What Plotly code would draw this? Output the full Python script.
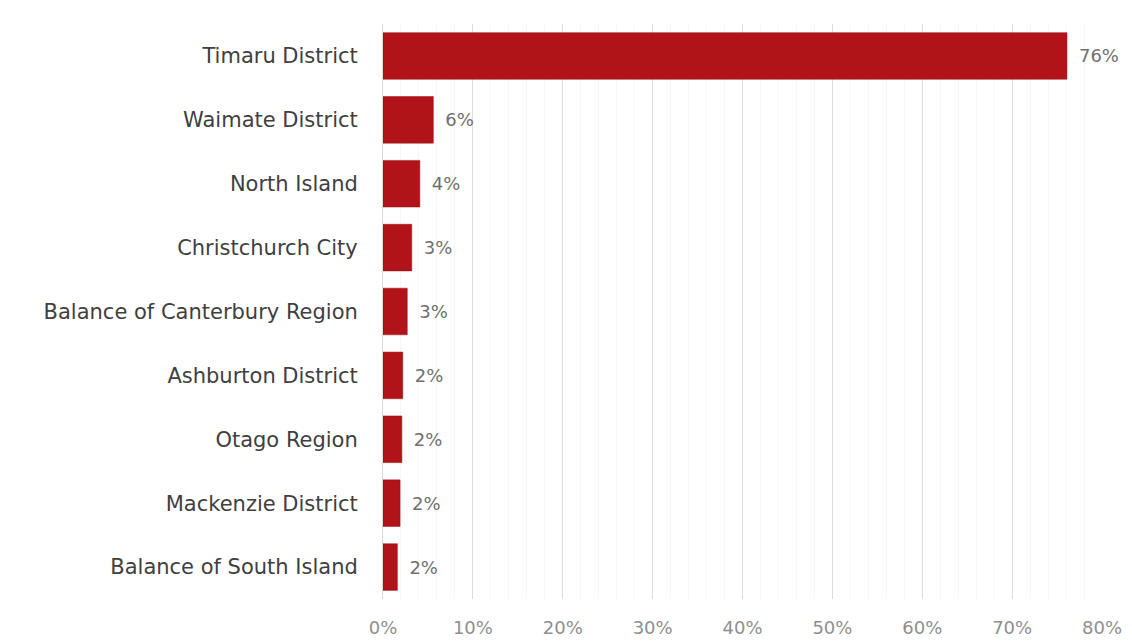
import plotly.graph_objects as go

# Share of residents by area (percent)
areas = [
    "Timaru District",
    "Waimate District",
    "North Island",
    "Christchurch City",
    "Balance of Canterbury Region",
    "Ashburton District",
    "Otago Region",
    "Mackenzie District",
    "Balance of South Island",
]
shares = [76.1, 5.6, 4.1, 3.2, 2.7, 2.2, 2.1, 1.9, 1.6]

x_ticks = list(range(0, 81, 10))
x_tick_labels = [f"{v}%" for v in x_ticks]

BAR_COLOR = "#B01318"
FONT = "'DejaVu Sans', sans-serif"

fig = go.Figure(
    go.Bar(
        x=shares,
        y=areas,
        orientation="h",
        marker=dict(color=BAR_COLOR, line=dict(color="#9a1014", width=0.5)),
        width=0.73,
        text=shares,
        # en space keeps a small gap between bar end and label
        texttemplate="\u2002%{x:.0f}%",
        textposition="outside",
        textfont=dict(family=FONT, size=18, color="#707070"),
        cliponaxis=False,
        hoverinfo="skip",
    )
)

fig.update_layout(
    width=1132,
    height=643,
    margin=dict(l=383, r=30, t=24, b=44),
    paper_bgcolor="white",
    plot_bgcolor="white",
    showlegend=False,
    font=dict(family=FONT),
)

fig.update_xaxes(
    range=[0, 80],
    tickvals=x_ticks,
    ticktext=x_tick_labels,
    tickfont=dict(family=FONT, size=18, color="#8f8f8f"),
    showgrid=True,
    gridcolor="#dcdcdc",
    gridwidth=1,
    minor=dict(dtick=2, showgrid=True, gridcolor="#f7f7f7", gridwidth=1),
    zeroline=False,
    showline=False,
    ticks="",
    ticklabelstandoff=16,
    automargin=False,
    fixedrange=True,
)

fig.update_yaxes(
    categoryorder="array",
    categoryarray=areas[::-1],
    tickfont=dict(family=FONT, size=21, color="#404040"),
    showgrid=False,
    zeroline=False,
    showline=True,
    linecolor="#d9d9d9",
    linewidth=1,
    ticks="",
    ticklabelstandoff=20,
    automargin=False,
    fixedrange=True,
)

fig.write_html("out.html")
